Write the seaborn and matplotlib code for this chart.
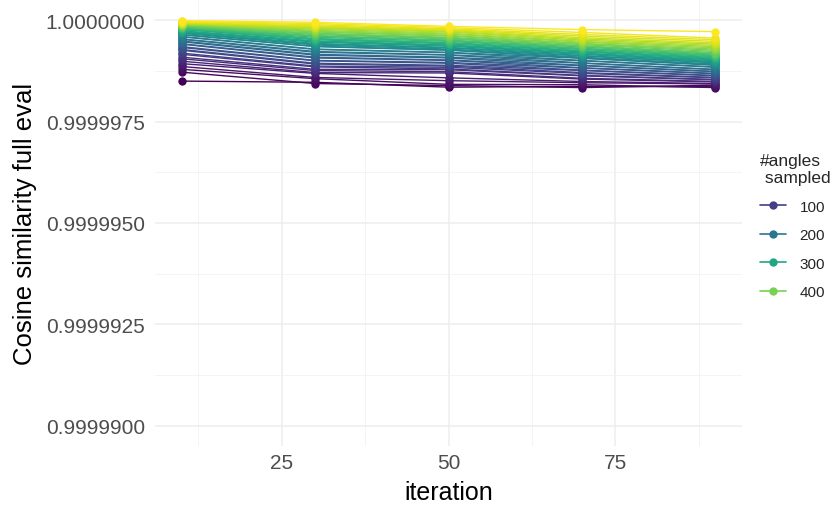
import numpy as np
import pandas as pd
import matplotlib
matplotlib.use("Agg")
import matplotlib.pyplot as plt
from matplotlib.lines import Line2D
import seaborn as sns

# ---------------- data ----------------
iterations = [10, 30, 50, 70, 90]
angles = [10, 20, 30, 40, 50, 60, 70, 80, 90, 100,
          110, 120, 130, 140, 150, 160, 170, 180, 190, 200,
          210, 220, 230, 240, 250, 260, 270, 280, 290, 300,
          310, 320, 330, 340, 350, 360, 370, 380, 390, 400,
          410, 420, 430, 440, 450, 460, 470, 480, 490, 500]

cos_it10 = [0.99999850, 0.99999872, 0.99999879, 0.99999886, 0.99999893, 0.99999899, 0.99999905, 0.99999909, 0.99999916, 0.99999919,
            0.99999926, 0.99999928, 0.99999933, 0.99999935, 0.99999941, 0.99999942, 0.99999947, 0.99999949, 0.99999953, 0.99999954,
            0.99999959, 0.99999960, 0.99999964, 0.99999965, 0.99999968, 0.99999969, 0.99999970, 0.99999972, 0.99999973, 0.99999974,
            0.99999977, 0.99999978, 0.99999980, 0.99999981, 0.99999981, 0.99999983, 0.99999984, 0.99999985, 0.99999987, 0.99999988,
            0.99999989, 0.99999990, 0.99999990, 0.99999992, 0.99999992, 0.99999994, 0.99999994, 0.99999996, 0.99999997, 0.99999999]
cos_it30 = [0.99999847, 0.99999844, 0.99999856, 0.99999859, 0.99999869, 0.99999871, 0.99999876, 0.99999879, 0.99999885, 0.99999887,
            0.99999892, 0.99999894, 0.99999900, 0.99999901, 0.99999907, 0.99999909, 0.99999914, 0.99999916, 0.99999921, 0.99999923,
            0.99999928, 0.99999929, 0.99999935, 0.99999936, 0.99999939, 0.99999941, 0.99999943, 0.99999946, 0.99999948, 0.99999949,
            0.99999952, 0.99999954, 0.99999955, 0.99999958, 0.99999961, 0.99999962, 0.99999965, 0.99999967, 0.99999968, 0.99999971,
            0.99999973, 0.99999975, 0.99999978, 0.99999980, 0.99999982, 0.99999984, 0.99999986, 0.99999989, 0.99999992, 0.99999995]
cos_it50 = [0.99999835, 0.99999839, 0.99999842, 0.99999851, 0.99999858, 0.99999870, 0.99999873, 0.99999878, 0.99999880, 0.99999884,
            0.99999887, 0.99999889, 0.99999894, 0.99999896, 0.99999901, 0.99999902, 0.99999907, 0.99999909, 0.99999914, 0.99999915,
            0.99999920, 0.99999921, 0.99999926, 0.99999927, 0.99999929, 0.99999932, 0.99999933, 0.99999936, 0.99999938, 0.99999939,
            0.99999942, 0.99999944, 0.99999945, 0.99999948, 0.99999950, 0.99999951, 0.99999954, 0.99999956, 0.99999958, 0.99999961,
            0.99999963, 0.99999966, 0.99999968, 0.99999971, 0.99999973, 0.99999975, 0.99999977, 0.99999979, 0.99999982, 0.99999985]
cos_it70 = [0.99999837, 0.99999834, 0.99999841, 0.99999846, 0.99999849, 0.99999855, 0.99999857, 0.99999863, 0.99999864, 0.99999869,
            0.99999871, 0.99999876, 0.99999877, 0.99999882, 0.99999883, 0.99999888, 0.99999889, 0.99999894, 0.99999895, 0.99999900,
            0.99999901, 0.99999906, 0.99999907, 0.99999909, 0.99999912, 0.99999913, 0.99999916, 0.99999918, 0.99999919, 0.99999922,
            0.99999924, 0.99999925, 0.99999928, 0.99999930, 0.99999931, 0.99999934, 0.99999936, 0.99999937, 0.99999940, 0.99999942,
            0.99999943, 0.99999946, 0.99999948, 0.99999951, 0.99999954, 0.99999957, 0.99999961, 0.99999965, 0.99999970, 0.99999977]
cos_it90 = [0.99999836, 0.99999840, 0.99999834, 0.99999843, 0.99999844, 0.99999848, 0.99999849, 0.99999853, 0.99999854, 0.99999858,
            0.99999859, 0.99999863, 0.99999864, 0.99999868, 0.99999869, 0.99999873, 0.99999874, 0.99999878, 0.99999879, 0.99999884,
            0.99999885, 0.99999889, 0.99999890, 0.99999892, 0.99999895, 0.99999896, 0.99999898, 0.99999900, 0.99999902, 0.99999904,
            0.99999906, 0.99999908, 0.99999910, 0.99999912, 0.99999914, 0.99999916, 0.99999918, 0.99999920, 0.99999923, 0.99999926,
            0.99999929, 0.99999932, 0.99999935, 0.99999938, 0.99999941, 0.99999944, 0.99999948, 0.99999952, 0.99999956, 0.99999972]

y_ticks = [0.99999, 0.9999925, 0.999995, 0.9999975, 1.0]
y_tick_labels = ["0.9999900", "0.9999925", "0.9999950", "0.9999975", "1.0000000"]
x_ticks = [25, 50, 75]
legend_values = [100, 200, 300, 400]

# ---------------- build long table ----------------
series = [cos_it10, cos_it30, cos_it50, cos_it70, cos_it90]
rows = []
for it, vals in zip(iterations, series):
    for a, v in zip(angles, vals):
        rows.append({"iteration": it, "angles": a, "cosine": v})
df = pd.DataFrame(rows)

# ---------------- style ----------------
sns.set_theme(style="white")
plt.rcParams["font.family"] = ["Liberation Sans", "DejaVu Sans"]

fig = plt.figure(figsize=(8.38, 5.06), dpi=100)
ax = fig.add_axes([155 / 838, 1 - 447 / 506, (742 - 155) / 838, (447 - 1) / 506])

norm = (min(angles), max(angles))
sns.lineplot(data=df, x="iteration", y="cosine", hue="angles", palette="viridis",
             hue_norm=norm, marker="o", markersize=6, markeredgewidth=0,
             linewidth=1.0, legend=False, estimator=None, ax=ax)

ax.set_xlim(6, 94)
ax.set_ylim(0.9999895, 1.0000005)
ax.set_xticks(x_ticks)
ax.set_xticks([12.5, 37.5, 62.5, 87.5], minor=True)
ax.set_yticks(y_ticks)
ax.set_yticklabels(y_tick_labels)
ax.set_yticks([0.99999125, 0.99999375, 0.99999625, 0.99999875], minor=True)

ax.grid(True, which="major", color="#EDEDED", linewidth=1.1)
ax.grid(True, which="minor", color="#F2F2F2", linewidth=0.6)
ax.set_axisbelow(True)
for s in ax.spines.values():
    s.set_visible(False)
ax.tick_params(which="both", length=0)
ax.tick_params(axis="both", labelsize=15, labelcolor="#4D4D4D")
ax.tick_params(axis="y", pad=7)
ax.tick_params(axis="x", pad=5)

ax.set_xlabel("iteration", fontsize=18, color="black", labelpad=6)
ax.set_ylabel("Cosine similarity full eval", fontsize=18.5, color="black", labelpad=6)

# legend
cmap = plt.get_cmap("viridis")
handles = []
for v in legend_values:
    c = cmap((v - norm[0]) / (norm[1] - norm[0]))
    handles.append(Line2D([0], [0], color=c, marker="o", markersize=6,
                          markeredgewidth=0, linewidth=1.2))
leg = fig.legend(handles, [str(v) for v in legend_values], title="#angles\n sampled",
                 loc="upper left", bbox_to_anchor=(746 / 838, 1 - 140 / 506),
                 frameon=False, fontsize=11, title_fontsize=12.5,
                 handlelength=1.7, labelspacing=0.95, handletextpad=0.9,
                 alignment="left")

fig.savefig("out.png", dpi=100)
